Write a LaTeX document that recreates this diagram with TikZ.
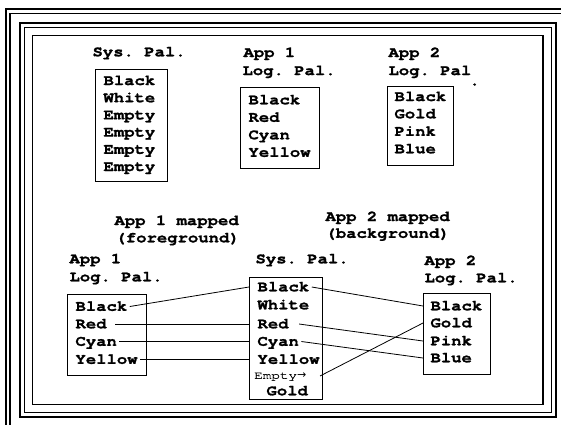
\documentclass[tikz,border=0pt]{standalone}
\usepackage{fontspec}
\setmonofont{TeX Gyre Cursor}[FakeStretch=1.15,FakeBold=1.2]
\newfontfamily\smallmono{TeX Gyre Cursor}[FakeStretch=1.3,FakeBold=0.8]
\newfontfamily\arrowfont{DejaVu Sans}
\begin{document}
\begin{tikzpicture}[x=1pt,y=-1pt,
  lbl/.style={font=\ttfamily\bfseries\fontsize{15}{17}\selectfont, inner sep=0pt, outer xsep=2.5pt, anchor=west, text height=8.6pt, text depth=0pt},
  palbox/.style={draw, line width=1pt, inner sep=0pt, anchor=north west},
  conn/.style={line width=0.8pt},
  frameA/.style={line width=2pt},
  frameB/.style={line width=1.1pt}]
\useasboundingbox (0,0) rectangle (561,424);
\fill[white] (0,0) rectangle (561,424);
\clip (0,0) rectangle (561,424);
% frames
\draw[frameA] (6,9) rectangle (700,700);
\draw[frameB] (10,13.5) rectangle (700,700);
\draw[frameA] (20,23) rectangle (556,417);
\draw[line width=1pt] (24.5,27.5) rectangle (551.5,412.5);
\draw[line width=1.3pt] (32.5,35.5) rectangle (543,404.5);

% ---- top section ----
\node[lbl] (tsyslbl) at (90,52) {Sys. Pal.};
\node[palbox, minimum width=72pt, minimum height=112pt] (tsysbox) at (95,69) {};
\node[lbl] (ts1) at (101,80.7) {Black};
\node[lbl] (ts2) at (101,97.9) {White};
\node[lbl] (ts3) at (101,115.1) {Empty};
\node[lbl] (ts4) at (101,132.3) {Empty};
\node[lbl] (ts5) at (101,149.5) {Empty};
\node[lbl] (ts6) at (101,166.7) {Empty};

\node[lbl] (ta1lbl) at (241,52.7) {App 1};
\node[lbl] (ta1lbl2) at (240,70.7) {Log. Pal.};
\node[palbox, minimum width=79pt, minimum height=81pt] (ta1box) at (240,87) {};
\node[lbl] (ta11) at (246,100) {Black};
\node[lbl] (ta12) at (246,117.5) {Red};
\node[lbl] (ta13) at (246,135) {Cyan};
\node[lbl] (ta14) at (246,152.5) {Yellow};

\node[lbl] (ta2lbl) at (386,52.7) {App 2};
\node[lbl] (ta2lbl2) at (386,70.7) {Log. Pal};
\node[lbl] (tdot) at (467,81) {.};
\node[palbox, minimum width=66pt, minimum height=79pt] (ta2box) at (387,86) {};
\node[lbl] (ta21) at (392,96.7) {Black};
\node[lbl] (ta22) at (392,114) {Gold};
\node[lbl] (ta23) at (392,131.5) {Pink};
\node[lbl] (ta24) at (392,149) {Blue};

% ---- bottom section ----
\node[lbl] (m1a) at (112,220.7) {App 1 mapped};
\node[lbl] (m1b) at (113,238) {(foreground)};
\node[lbl] (m2a) at (323,216.7) {App 2 mapped};
\node[lbl] (m2b) at (323,233.5) {(background)};

\node[lbl] (ba1lbl) at (67,259) {App 1};
\node[lbl] (ba1lbl2) at (67,277) {Log. Pal.};
\node[palbox, minimum width=79pt, minimum height=81pt] (ba1box) at (67,294) {};
\node[lbl] (a1black) at (73,306.5) {Black};
\node[lbl] (a1red) at (73,324) {Red};
\node[lbl] (a1cyan) at (73,341.5) {Cyan};
\node[lbl] (a1yellow) at (73,359.5) {Yellow};

\node[lbl] (bsyslbl) at (253,259) {Sys. Pal.};
\node[palbox, minimum width=73pt, minimum height=122pt] (bsysbox) at (249,277) {};
\node[lbl] (sblack) at (255,287) {Black};
\node[lbl] (swhite) at (255,305) {White};
\node[lbl] (sred) at (255,324) {Red};
\node[lbl] (scyan) at (255,341.5) {Cyan};
\node[lbl] (syellow) at (255,359.5) {Yellow};
\node[inner sep=0pt, anchor=west, font=\smallmono\fontsize{11}{11}\selectfont] (sempty) at (254,376.7) {Empty{\arrowfont\fontsize{11}{11}\selectfont →}};
\node[lbl] (sgold) at (264,391) {Gold};
\coordinate (emptyend) at (320,376);

\node[lbl] (ba2lbl) at (422,260.7) {App 2};
\node[lbl] (ba2lbl2) at (422,278) {Log. Pal.};
\node[palbox, minimum width=67pt, minimum height=81pt] (ba2box) at (423,293) {};
\node[lbl] (a2black) at (428,306) {Black};
\node[lbl] (a2gold) at (428,323) {Gold};
\node[lbl] (a2pink) at (428,341) {Pink};
\node[lbl] (a2blue) at (428,358) {Blue};

% ---- connectors ----
\draw[conn] (a1black.east) -- (bsysbox.west |- sblack.west);
\draw[conn] ([xshift=6pt]a1red.east) -- (bsysbox.west |- sred.west);
\draw[conn] (a1cyan.east) -- (bsysbox.west |- scyan.west);
\draw[conn] (a1yellow.east) -- (bsysbox.west |- syellow.west);

\draw[conn] (sblack.east) -- (ba2box.west |- a2black.west);
\draw[conn] ([xshift=8pt]sred.east) -- (ba2box.west |- a2pink.west);
\draw[conn] (scyan.east) -- (ba2box.west |- a2blue.west);
\draw[conn] (emptyend) -- (ba2box.west |- a2gold.west);
\end{tikzpicture}
\end{document}
